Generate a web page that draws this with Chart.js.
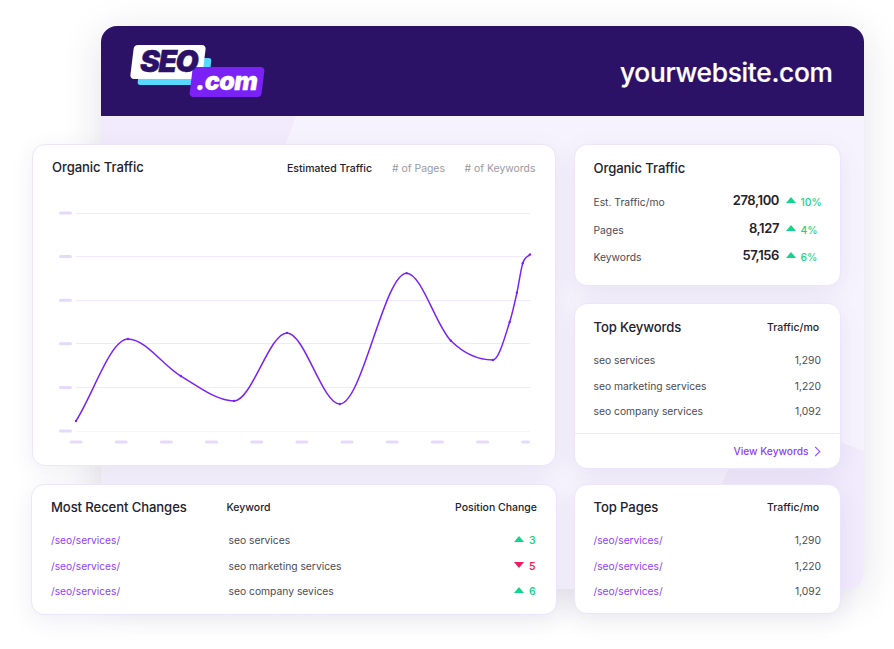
<!DOCTYPE html>
<html>
<head>
<meta charset="utf-8">
<script src="https://cdn.jsdelivr.net/npm/chart.js@4"></script>
<style>
* { box-sizing: border-box; margin: 0; padding: 0; }
html, body { width: 894px; height: 649px; background: #fff; overflow: hidden; font-family: Inter, sans-serif; color: #23222e; }
.abs { position: absolute; white-space: nowrap; line-height: 1; }
#panel { position: absolute; left: 101px; top: 26px; width: 763px; height: 563px; border-radius: 16px; background: #f7f3fe; overflow: hidden; }
#panelShadow { position: absolute; left: 101px; top: 26px; width: 763px; height: 563px; border-radius: 16px; box-shadow: 0 8px 40px rgba(30,20,60,.13); }
#head { position: absolute; left: 0; top: 0; width: 100%; height: 90px; background: #2c1267; }
#shape1 { position: absolute; left: 0; top: 90px; width: 195px; height: 120px; background: #f2ebfd; clip-path: polygon(0 0, 100% 0, 150px 100%, 0 100%); }
#shape2 { position: absolute; left: 614px; top: 404px; width: 149px; height: 159px; background: #f2ebfd; clip-path: polygon(0 70px, 30px 0, 125px 12px, 149px 21px, 149px 159px, 0 159px); }
.card { position: absolute; background: #fff; border: 1px solid #ece5fb; border-radius: 13px; box-shadow: 0 6px 24px rgba(50,35,100,.08); }
#site { left: 620px; top: 60px; font-size: 26.3px; font-weight: 500; color: #fff; letter-spacing: -.3px; -webkit-text-stroke: .2px #fff; }
#logo div { position: absolute; transform: skewX(-7deg); }
#l-cyan { left: 139px; top: 58px; width: 71px; height: 27px; background: #57d8ff; border-radius: 3px; }
#l-white { left: 132px; top: 45px; width: 72px; height: 34px; background: #fff; border-radius: 4px; }
#l-purple { left: 191px; top: 67px; width: 72px; height: 30px; background: #7a22f5; border-radius: 4px; }
#logo span { position: absolute; font-weight: 900; font-style: italic; white-space: nowrap; line-height: 1; }
#l-seo { left: 140px; top: 46px; font-size: 30px; color: #2c1267; letter-spacing: -1.6px; -webkit-text-stroke: .4px #2c1267; }
#l-com { left: 196px; top: 69px; font-size: 25px; color: #fff; letter-spacing: -.6px; -webkit-text-stroke: .3px #fff; }
.h1 { font-size: 13.1px; font-weight: 500; color: #23222e; letter-spacing: -.1px; }
.h2 { font-size: 10.5px; font-weight: 500; color: #23222e; }
.tab { font-size: 10.4px; color: #9a9aa3; }
.cell { font-size: 10.3px; color: #4c4b55; }
.link { font-size: 10.2px; color: #9040f8; }
.num { font-size: 13px; font-weight: 600; color: #23222e; letter-spacing: -.4px; }
.up { color: #12d58b; }
.down { color: #f3195f; }
.tri { position: absolute; width: 0; height: 0; border-left: 5.5px solid transparent; border-right: 5.5px solid transparent; }
.tri.u { border-bottom: 6px solid #12d58b; }
.tri.d { border-top: 6px solid #f3195f; }
#chev { position: absolute; left: 812px; top: 447.5px; width: 7px; height: 7px; border-top: 1.3px solid #9040f8; border-right: 1.3px solid #9040f8; transform: rotate(45deg); }
#chartBox { position: absolute; left: 40px; top: 195px; width: 500px; height: 260px; }
</style>
</head>
<body>
<div id="panelShadow"></div>
<div id="panel">
  <div id="head"></div>
  <div id="shape1"></div>
  <div id="shape2"></div>
</div>
<div id="logo">
  <div id="l-cyan"></div><div id="l-white"></div><div id="l-purple"></div>
  <span id="l-seo">SEO</span><span id="l-com">.com</span>
</div>
<div id="site" class="abs">yourwebsite.com</div>

<div class="card" style="left:32px;top:144px;width:524px;height:322px"></div>
<div class="card" style="left:574px;top:144px;width:267px;height:142px"></div>
<div class="card" style="left:574px;top:303px;width:267px;height:166px"></div>
<div class="card" style="left:31px;top:484px;width:526px;height:131px"></div>
<div class="card" style="left:574px;top:484px;width:267px;height:130px"></div>
<div class="abs" style="left:575px;top:433px;width:265px;height:1px;background:#ece5fb"></div>
<div id="chev"></div>

<div id="chartBox"><canvas id="trafficChart" width="500" height="260"></canvas></div>
<div id="texts"></div>

<script>
// x position (in tick units) and value (in grid units) of each point on the line
const pointX = [0, 1.15, 2.32, 3.5, 4.67, 5.84, 7.32, 8.3, 9.23, 9.6, 9.76, 9.89, 10.05];
const traffic = [0.23, 2.11, 1.26, 0.69, 2.25, 0.62, 3.62, 2.07, 1.63, 2.5, 3.17, 3.85, 4.05];
const xTicks = [0, 1, 2, 3, 4, 5, 6, 7, 8, 9, 10];
const yTicks = [0, 1, 2, 3, 4, 5];

const tabs = ['Estimated Traffic', '# of Pages', '# of Keywords'];
const statLabels = ['Est. Traffic/mo', 'Pages', 'Keywords'];
const statValues = ['278,100', '8,127', '57,156'];
const statChanges = ['10%', '4%', '6%'];
const keywords = ['seo services', 'seo marketing services', 'seo company services'];
const keywordTraffic = ['1,290', '1,220', '1,092'];
const pages = ['/seo/services/', '/seo/services/', '/seo/services/'];
const pageTraffic = ['1,290', '1,220', '1,092'];
const changeKeywords = ['seo services', 'seo marketing services', 'seo company sevices'];
const positionChanges = [3, -5, 6];

// small helper for the text around the chart
const texts = document.getElementById('texts');
function put(text, cls, x, y, right, style) {
    const el = document.createElement('div');
    el.className = 'abs ' + cls;
    el.textContent = text;
    el.style.top = y + 'px';
    if (right) el.style.right = (894 - x) + 'px'; else el.style.left = x + 'px';
    if (style) el.style.cssText += style;
    texts.appendChild(el);
}
function tri(x, y, up) {
    const el = document.createElement('div');
    el.className = 'tri ' + (up ? 'u' : 'd');
    el.style.left = x + 'px';
    el.style.top = y + 'px';
    texts.appendChild(el);
}

put('Organic Traffic', 'h1', 52, 161);
put(tabs[0], 'h2', 287, 164);
put(tabs[1], 'tab', 392, 164);
put(tabs[2], 'tab', 464.5, 164);

put('Organic Traffic', 'h1', 593.5, 162);
const statY = [196, 224, 251];
statLabels.forEach((label, i) => {
    put(label, 'cell', 593.5, statY[i] + 1);
    put(statValues[i], 'num', 779, statY[i] - 2, true);
    tri(786, statY[i] + 1, true);
    put(statChanges[i], 'cell up', 800.5, statY[i] + 1, false, 'font-weight:500');
});

put('Top Keywords', 'h1', 593.5, 321);
put('Traffic/mo', 'h2', 767, 323);
const kwY = [355, 381, 406];
keywords.forEach((k, i) => {
    put(k, 'cell', 593.5, kwY[i]);
    put(keywordTraffic[i], 'cell', 821, kwY[i], true);
});
put('View Keywords', 'link', 733.5, 446, false, 'font-weight:500');

put('Most Recent Changes', 'h1', 51, 501);
put('Keyword', 'h2', 226.5, 503);
put('Position Change', 'h2', 537, 503, true);
const chY = [535, 561, 586];
pages.forEach((p, i) => {
    put(p, 'link', 51, chY[i]);
    put(changeKeywords[i], 'cell', 228.5, chY[i]);
    const up = positionChanges[i] > 0;
    tri(514, chY[i] + 1, up);
    put(String(Math.abs(positionChanges[i])), 'cell ' + (up ? 'up' : 'down'), 529, chY[i], false, 'font-weight:600');
});

put('Top Pages', 'h1', 593.5, 501);
put('Traffic/mo', 'h2', 767, 503);
pages.forEach((p, i) => {
    put(p, 'link', 593.5, chY[i]);
    put(pageTraffic[i], 'cell', 821, chY[i], true);
});

// the tick labels in the picture are blanked out as pale dashes, so draw those at the tick positions
const dashTicks = {
    id: 'dashTicks',
    afterDraw(chart) {
        const { ctx, chartArea, scales } = chart;
        ctx.save();
        ctx.fillStyle = '#e6d9fb';
        ctx.beginPath();
        scales.y.ticks.forEach(t => {
            ctx.roundRect(chartArea.left - 17, scales.y.getPixelForValue(t.value) - 1.5, 13, 3, 1.5);
        });
        scales.x.ticks.forEach(t => {
            const x = scales.x.getPixelForValue(t.value);
            const w = Math.min(13, chartArea.right - x + 6.5);
            ctx.roundRect(x - 6.5, chartArea.bottom + 9.5, w, 3, 1.5);
        });
        ctx.fill();
        ctx.restore();
    }
};

const ctx = document.getElementById('trafficChart').getContext('2d');
const trafficChart = new Chart(ctx, {
    type: 'line',
    data: {
        datasets: [{
            label: tabs[0],
            data: pointX.map((x, i) => ({ x: x, y: traffic[i] })),
            borderColor: '#7a22f5',
            borderWidth: 1.5,
            backgroundColor: '#7a22f5',
            pointRadius: 1.2,
            pointBorderWidth: 0,
            cubicInterpolationMode: 'monotone',
            clip: false
        }]
    },
    plugins: [dashTicks],
    options: {
        responsive: false,
        animation: false,
        layout: { padding: { left: 36, top: 18, right: 10, bottom: 16 } },
        plugins: { legend: { display: false }, tooltip: { enabled: false } },
        scales: {
            x: {
                type: 'linear',
                min: 0,
                max: 10.05,
                afterBuildTicks: s => { s.ticks = xTicks.map(v => ({ value: v })); },
                grid: { display: false },
                border: { display: false },
                ticks: { display: false }
            },
            y: {
                min: 0,
                max: 5,
                afterBuildTicks: s => { s.ticks = yTicks.map(v => ({ value: v })); },
                grid: { color: c => c.tick.value === 0 ? '#f7f3fe' : '#f0e8fe', lineWidth: 1, drawTicks: false },
                border: { display: false },
                ticks: { display: false }
            }
        }
    }
});
</script>
</body>
</html>
